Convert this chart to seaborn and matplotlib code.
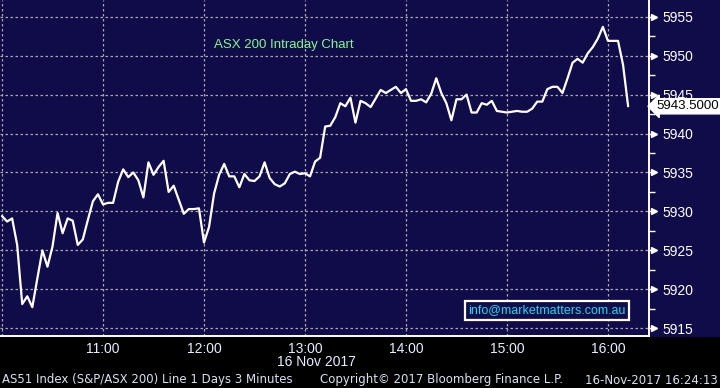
from matplotlib.patches import Rectangle
import matplotlib

matplotlib.use("Agg")

import matplotlib.dates as mdates
import matplotlib.pyplot as plt
import matplotlib.ticker as mticker
from matplotlib.transforms import ScaledTranslation
import pandas as pd
import seaborn as sns


# ASX 200, 16 Nov 2017, 3-minute bars from 10:00
START = "2017-11-16 10:00"
STEP = "3min"
PRICES = [
    5929.4, 5928.7, 5929.1, 5925.7, 5918.1, 5919.1, 5917.7, 5921.4, 5925.0, 5922.9,
    5925.5, 5929.8, 5927.2, 5929.1, 5928.8, 5925.7, 5926.4, 5928.9, 5931.3, 5932.2,
    5930.9, 5931.1, 5931.1, 5933.8, 5935.4, 5934.4, 5935.0, 5934.0, 5931.8, 5936.3,
    5934.7, 5935.7, 5936.5, 5932.5, 5933.3, 5931.5, 5929.7, 5930.3, 5930.3, 5930.4,
    5926.0, 5928.0, 5932.3, 5934.7, 5936.1, 5934.5, 5934.5, 5933.1, 5934.8, 5934.0,
    5933.9, 5934.5, 5936.3, 5934.3, 5933.5, 5933.2, 5933.6, 5934.8, 5935.1, 5934.8,
    5934.9, 5934.5, 5936.4, 5936.9, 5940.9, 5941.0, 5942.1, 5943.9, 5943.5, 5944.6,
    5941.4, 5944.2, 5943.9, 5943.4, 5944.5, 5945.6, 5945.2, 5945.6, 5946.0, 5945.2,
    5945.7, 5944.2, 5944.2, 5944.4, 5944.0, 5945.1, 5947.1, 5945.2, 5943.9, 5941.7,
    5944.4, 5944.4, 5945.0, 5942.7, 5942.7, 5943.9, 5943.7, 5944.2, 5942.9, 5942.8,
    5942.7, 5942.8, 5942.9, 5942.8, 5942.8, 5943.2, 5944.1, 5944.1, 5945.7, 5946.0,
    5946.0, 5945.2, 5947.1, 5949.1, 5949.6, 5949.1, 5950.3, 5951.1, 5952.2, 5953.7,
    5951.9, 5951.9, 5951.9, 5948.8, 5943.5,
]
Y_TICKS = [5915, 5920, 5925, 5930, 5935, 5940, 5945, 5950, 5955]
LAST_LABEL = "5943.5000"
TITLE = "ASX 200 Intraday Chart"
EMAIL = "info@marketmatters.com.au"
DATE_LABEL = "16 Nov 2017"
FOOTER_LEFT = "AS51 Index (S&P/ASX 200) Line 1 Days 3 Minutes"
FOOTER_MID = "Copyright\u00a9 2017 Bloomberg Finance L.P."
FOOTER_RIGHT = "16-Nov-2017 16:24:13"

NAVY = "#100c4a"
GRID = "#a8a8a8"
AXIS_BOTTOM = 1 - 336 / 388
AXIS_RIGHT = 649 / 720


def main() -> None:
    sns.set_theme(style="dark")
    plt.rcParams["font.family"] = ["Liberation Sans", "DejaVu Sans"]

    df = pd.DataFrame({
        "time": pd.date_range(START, periods=len(PRICES), freq=STEP),
        "price": PRICES,
    })

    fig = plt.figure(figsize=(7.2, 3.88), dpi=100, facecolor="black")
    # navy band behind the plot and the right-hand price scale
    fig.patches.append(Rectangle((0, AXIS_BOTTOM), 1, 1 - AXIS_BOTTOM,
                                 transform=fig.transFigure, color=NAVY, zorder=-10))
    ax = fig.add_axes([0, AXIS_BOTTOM, AXIS_RIGHT, 1 - AXIS_BOTTOM])
    ax.set_facecolor(NAVY)

    sns.lineplot(data=df, x="time", y="price", ax=ax, color="white",
                 linewidth=1.6, zorder=3)

    t0 = pd.Timestamp(START)
    ax.set_xlim(t0 - pd.Timedelta(minutes=1.2), t0 + pd.Timedelta(minutes=384.4))
    ax.set_ylim(5914.0, 5957.15)
    ax.set_xlabel("")
    ax.set_ylabel("")

    # x axis: hours with grid, half-hour minor ticks
    ax.xaxis.set_major_locator(mdates.HourLocator())
    ax.xaxis.set_minor_locator(mdates.MinuteLocator(byminute=[30]))
    hour_fmt = mdates.DateFormatter("%H:%M")
    ax.xaxis.set_major_formatter(mticker.FuncFormatter(
        lambda v, pos: "" if mdates.num2date(v).hour == 10 else hour_fmt(v, pos)))
    ax.tick_params(axis="x", which="both", direction="out", length=4, width=1,
                   color="white", labelcolor="#e6eeff", labelsize=10, pad=0.5)

    # y axis on the right
    ax.yaxis.tick_right()
    ax.set_yticks(Y_TICKS)
    ax.yaxis.set_minor_locator(mticker.MultipleLocator(2.5))
    ax.tick_params(axis="y", which="major", direction="out", length=5, width=1,
                   color="white", labelcolor="white", labelsize=10, pad=5)
    ax.tick_params(axis="y", which="minor", direction="out", length=4, width=1,
                   color="white")
    arrow_tr = ax.get_yaxis_transform() + ScaledTranslation(5 / 100, 0, fig.dpi_scale_trans)
    ax.plot([1] * len(Y_TICKS), Y_TICKS, ls="none", marker=">", ms=4.5, color="white",
            transform=arrow_tr, clip_on=False, zorder=5)

    ax.grid(True, which="major", color=GRID, linestyle=(0, (2, 2)), linewidth=0.9)
    ax.grid(False, which="minor")

    for side in ("left", "top"):
        ax.spines[side].set_visible(False)
    for side in ("right", "bottom"):
        ax.spines[side].set_visible(True)
        ax.spines[side].set_color("white")
        ax.spines[side].set_linewidth(1.4)

    ax.text(0.4376, 0.866, TITLE, transform=ax.transAxes, ha="center", va="center",
            color="#86f78e", fontsize=9.5)
    ax.text(0.843, 0.077, EMAIL, transform=ax.transAxes, ha="center", va="center",
            color="#1ed8f0", fontsize=9, zorder=6,
            bbox={"boxstyle": "square,pad=0.28", "facecolor": NAVY,
                  "edgecolor": "white", "linewidth": 1.6})

    last = df["price"].iloc[-1]
    ax.annotate(LAST_LABEL, xy=(1, last), xycoords=ax.get_yaxis_transform(),
                xytext=(5, 0), textcoords="offset points", ha="left", va="center",
                color="black", fontsize=9.5, annotation_clip=False, zorder=7,
                bbox={"boxstyle": "larrow,pad=0.12", "facecolor": "white",
                      "edgecolor": "white"})

    fig.text(316 / 720, 1 - 362 / 388, DATE_LABEL, ha="center", va="center",
             color="#e6eeff", fontsize=10)
    footer = {"va": "center", "color": "#d8e0f0", "fontsize": 8.5,
              "family": ["DejaVu Sans"]}
    fig.text(2 / 720, 1 - 380 / 388, FOOTER_LEFT, ha="left", **footer)
    fig.text(320 / 720, 1 - 380 / 388, FOOTER_MID, ha="left", **footer)
    fig.text(718 / 720, 1 - 380 / 388, FOOTER_RIGHT, ha="right", **footer)

    fig.savefig("out.png", dpi=100, facecolor="black")
    plt.close(fig)


if __name__ == "__main__":
    main()
